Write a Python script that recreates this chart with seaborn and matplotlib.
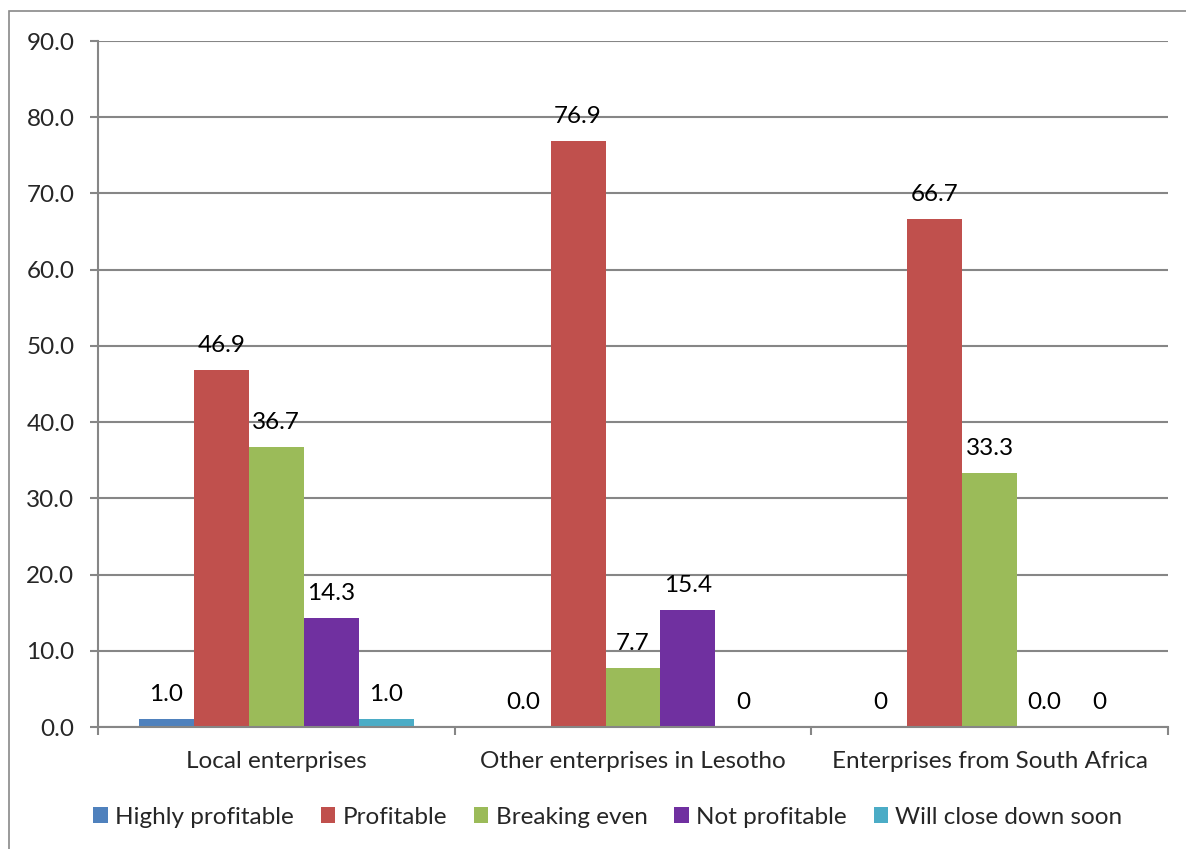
#!/usr/bin/env python3
"""Grouped bar chart: profitability by enterprise type (Excel-style look)."""

import matplotlib
matplotlib.use("Agg")
import matplotlib.pyplot as plt
from matplotlib.patches import Rectangle, Patch
import numpy as np
import pandas as pd
import seaborn as sns

categories = ["Local enterprises", "Other enterprises in Lesotho",
              "Enterprises from South Africa"]
series = ["Highly profitable", "Profitable", "Breaking even",
          "Not profitable", "Will close down soon"]
highly_profitable = [1.0, 0.0, 0.0]
profitable = [46.9, 76.9, 66.7]
breaking_even = [36.7, 7.7, 33.3]
not_profitable = [14.3, 15.4, 0.0]
will_close = [1.0, 0.0, 0.0]

# labels as printed on the chart (some zeros show as "0", some as "0.0")
bar_labels = [
    ["1.0", "0.0", "0"],
    ["46.9", "76.9", "66.7"],
    ["36.7", "7.7", "33.3"],
    ["14.3", "15.4", "0.0"],
    ["1.0", "0", "0"],
]
yticks = np.arange(0, 91, 10)

colors = ["#4F81BD", "#C0504D", "#9BBB59", "#7030A0", "#4BACC6"]
GRID = "#868686"
FS = 17.5

values = [highly_profitable, profitable, breaking_even, not_profitable, will_close]
df = pd.DataFrame(
    [(cat, s, v[i]) for s, v in zip(series, values) for i, cat in enumerate(categories)],
    columns=["category", "series", "value"],
)

sns.set_style("white")
plt.rcParams["font.family"] = ["Lato", "DejaVu Sans"]

W, H = 1186, 849
fig = plt.figure(figsize=(W / 100, H / 100), dpi=100)
ax = fig.add_axes([98 / W, 1 - 727 / H, (1168 - 98) / W, (727 - 41) / H])

sns.barplot(data=df, x="category", y="value", hue="series", order=categories,
            hue_order=series, palette=colors, width=0.77, saturation=1,
            ax=ax, legend=False, linewidth=0, errorbar=None)

for cont, labs in zip(ax.containers, bar_labels):
    ax.bar_label(cont, labels=labs, padding=10, fontsize=FS, color="black")

ax.set_ylim(0, 90)
ax.set_xlim(-0.5, 2.5)
ax.set_yticks(yticks)
ax.set_yticklabels([f"{t:.1f}" for t in yticks], fontsize=FS)
ax.set_xticks(range(3))
ax.set_xticklabels(categories, fontsize=FS)
ax.set_xlabel("")
ax.set_ylabel("")
ax.yaxis.grid(True, color=GRID, linewidth=1.5)
ax.set_axisbelow(True)

# Excel style: ticks between categories, none at label positions
ax.set_xticks([-0.5, 0.5, 1.5, 2.5], minor=True)
ax.tick_params(axis="x", which="major", length=0, pad=17)
ax.tick_params(axis="x", which="minor", length=6, width=1.5, color=GRID,
               direction="out", bottom=True)
ax.tick_params(axis="y", length=6, width=1.5, color=GRID, direction="out",
               left=True, pad=11)

for side in ("top", "right"):
    ax.spines[side].set_visible(False)
for side in ("left", "bottom"):
    ax.spines[side].set_color(GRID)
    ax.spines[side].set_linewidth(1.5)

handles = [Patch(facecolor=c, edgecolor="none") for c in colors]
fig.legend(handles, series, loc="center", bbox_to_anchor=(608 / W, 1 - 817 / H),
           ncol=5, frameon=False, fontsize=FS, handlelength=0.6,
           handleheight=0.6, handletextpad=0.3, columnspacing=1.1)

# chart area border (left and top edge visible)
fig.add_artist(Rectangle((9 / W, -0.05), 1.2, 1.05 - 11 / H, fill=False,
                         edgecolor="#898989", linewidth=1.2,
                         transform=fig.transFigure, clip_on=False))

fig.savefig("out.png", dpi=100)
